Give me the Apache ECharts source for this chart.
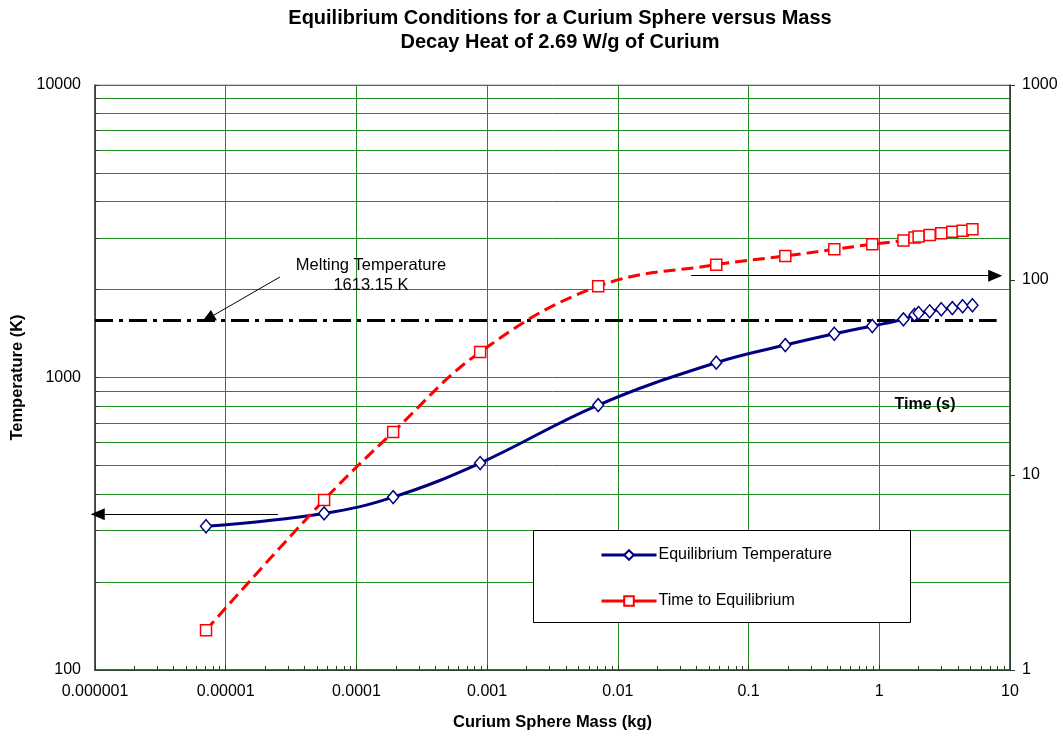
<!DOCTYPE html>
<html>
<head>
<meta charset="utf-8">
<script src="https://cdn.jsdelivr.net/npm/echarts@6/dist/echarts.min.js"></script>
<style>
html,body{margin:0;padding:0;background:#fff;}
#chart{width:1063px;height:737px;}
</style>
</head>
<body>
<div id="chart"></div>
<script>
// ---- data ----
const massKg = [7.07e-6, 5.66e-5, 1.91e-4, 8.84e-4, 7.07e-3, 0.0566, 0.191, 0.453, 0.884, 1.53, 1.86, 2.0, 2.43, 2.98, 3.62, 4.34, 5.16];
const eqTemperature = [310, 343, 390, 510, 805, 1124, 1291, 1411, 1500, 1581, 1637, 1662, 1684, 1711, 1727, 1752, 1766];
const timeToEq = [1.6, 7.45, 16.6, 42.7, 92.8, 119.8, 132.8, 143.7, 152.5, 159.5, 165.2, 166.9, 170.2, 173.6, 176.9, 179.0, 182.0];
const meltingLineX = [1e-6, 7.9];
const meltingLineT = [1565, 1565];
const xTickLabels = ['0.000001', '0.00001', '0.0001', '0.001', '0.01', '0.1', '1', '10'];
const leftTickLabels = ['100', '1000', '10000'];
const rightTickLabels = ['1', '10', '100', '1000'];
const seriesNames = ['Equilibrium Temperature', 'Time to Equilibrium'];

const chart = echarts.init(document.getElementById('chart'), null, {renderer: 'canvas'});
const FONT = 'Liberation Sans, Arial, sans-serif';
const GRID_GREEN = '#1f8f1f';

const tempData = massKg.map((m, i) => [m, eqTemperature[i]]);
const timeData = massKg.map((m, i) => [m, timeToEq[i]]);
const meltData = meltingLineX.map((x, i) => [x, meltingLineT[i]]);

const arrowStyle = {color: '#000', width: 1, type: 'solid'};
function arrow(x1, y1, x2, y2) {
  return [
    {coord: [x1, y1], symbol: 'none'},
    {coord: [x2, y2], symbol: 'triangle', symbolSize: [12, 14]}
  ];
}

const option = {
  animation: false,
  backgroundColor: '#fff',
  textStyle: {fontFamily: FONT},
  grid: {left: 95, right: 53, top: 85, bottom: 67, show: true, borderColor: '#a0a0a0', borderWidth: 1, backgroundColor: 'transparent'},
  xAxis: {
    type: 'log', logBase: 10, min: 1e-6, max: 10, splitNumber: 7,
    name: 'Curium Sphere Mass (kg)', nameLocation: 'middle', nameGap: 44,
    nameTextStyle: {fontFamily: FONT, fontSize: 16.5, fontWeight: 'bold', color: '#000'},
    axisLine: {show: true, lineStyle: {color: '#333', width: 1.5}},
    axisTick: {show: true, inside: true, length: 5, lineStyle: {color: '#333'}},
    minorTick: {show: true, splitNumber: 9, length: 4, lineStyle: {color: '#333'}},
    splitLine: {show: true, lineStyle: {color: GRID_GREEN, width: 1}},
    axisLabel: {
      fontFamily: FONT, fontSize: 16, color: '#000', margin: 14,
      formatter: v => xTickLabels[Math.round(Math.log10(v)) + 6]
    }
  },
  yAxis: [
    {
      type: 'log', logBase: 10, min: 100, max: 10000, splitNumber: 2,
      name: 'Temperature (K)', nameLocation: 'middle', nameGap: 67,
      nameTextStyle: {fontFamily: FONT, fontSize: 16.5, fontWeight: 'bold', color: '#000'},
      axisLine: {show: true, lineStyle: {color: '#333', width: 1.5}},
      axisTick: {show: true, inside: true, length: 4, lineStyle: {color: '#333'}},
      minorTick: {show: true, splitNumber: 9, length: 4, lineStyle: {color: '#333'}},
      splitLine: {show: true, lineStyle: {color: GRID_GREEN, width: 1}},
      minorSplitLine: {show: true, lineStyle: {color: GRID_GREEN, width: 1}},
      axisLabel: {
        fontFamily: FONT, fontSize: 16, color: '#000', margin: 14,
        formatter: v => leftTickLabels[Math.round(Math.log10(v)) - 2]
      }
    },
    {
      type: 'log', logBase: 10, min: 1, max: 1000, splitNumber: 3,
      position: 'right',
      axisLine: {show: true, lineStyle: {color: '#333', width: 1.5}},
      axisTick: {show: true, length: 5, lineStyle: {color: '#333'}},
      splitLine: {show: false},
      axisLabel: {
        fontFamily: FONT, fontSize: 16, color: '#000', margin: 12,
        formatter: v => rightTickLabels[Math.round(Math.log10(v))]
      }
    }
  ],
  legend: {
    orient: 'vertical', left: 600, top: 547, z: 10, padding: 0,
    itemWidth: 55, itemHeight: 12, itemGap: 30,
    lineStyle: {type: 'solid', width: 3},
    textStyle: {fontFamily: FONT, fontSize: 16, color: '#000', padding: [0, 0, 0, -3]},
    data: seriesNames
  },
  graphic: [
    {type: 'rect', z: 5, shape: {x: 533.5, y: 530.5, width: 377, height: 92}, style: {fill: '#fff', stroke: '#000', lineWidth: 1}},
    {type: 'text', z: 6, x: 371, y: 265, style: {text: 'Melting Temperature', font: '16.5px ' + FONT, fill: '#000', textAlign: 'center', textVerticalAlign: 'middle'}},
    {type: 'text', z: 6, x: 371, y: 285, style: {text: '1613.15 K', font: '16.5px ' + FONT, fill: '#000', textAlign: 'center', textVerticalAlign: 'middle'}},
    {type: 'text', z: 6, x: 925, y: 405, style: {text: 'Time (s)', font: 'bold 16px ' + FONT, fill: '#000', textAlign: 'center', textVerticalAlign: 'middle'}},
    {type: 'text', z: 6, x: 560, y: 18, style: {text: 'Equilibrium Conditions for a Curium Sphere versus Mass', font: 'bold 20px ' + FONT, fill: '#000', textAlign: 'center', textVerticalAlign: 'middle'}},
    {type: 'text', z: 6, x: 560, y: 42, style: {text: 'Decay Heat of 2.69 W/g of Curium', font: 'bold 20px ' + FONT, fill: '#000', textAlign: 'center', textVerticalAlign: 'middle'}}
  ],
  series: [
    {
      name: 'Melting', type: 'line', xAxisIndex: 0, yAxisIndex: 0,
      data: meltData, symbol: 'none', silent: true, z: 3,
      lineStyle: {color: '#000', width: 3, type: [18, 6, 4, 6]},
      markLine: {
        silent: true, animation: false, z: 6,
        label: {show: false},
        lineStyle: arrowStyle,
        data: [
          arrow(2.6e-5, 2206, 7.3e-6, 1590),
          arrow(2.51e-5, 341, 1.05e-6, 341),
          arrow(0.0363, 2228, 7.7, 2228)
        ]
      }
    },
    {
      name: seriesNames[0], type: 'line', xAxisIndex: 0, yAxisIndex: 0,
      data: tempData, smooth: 0.4, z: 4,
      symbol: 'diamond', symbolSize: [11, 13],
      lineStyle: {color: '#000080', width: 3},
      itemStyle: {color: '#fff', borderColor: '#000080', borderWidth: 1.5}
    },
    {
      name: seriesNames[1], type: 'line', xAxisIndex: 0, yAxisIndex: 1,
      data: timeData, smooth: 0.4, z: 4,
      symbol: 'rect', symbolSize: 11,
      lineStyle: {color: '#ff0000', width: 3, type: [12, 6]},
      itemStyle: {color: '#fff', borderColor: '#ff0000', borderWidth: 1.5}
    }
  ]
};
chart.setOption(option);
</script>
</body>
</html>
